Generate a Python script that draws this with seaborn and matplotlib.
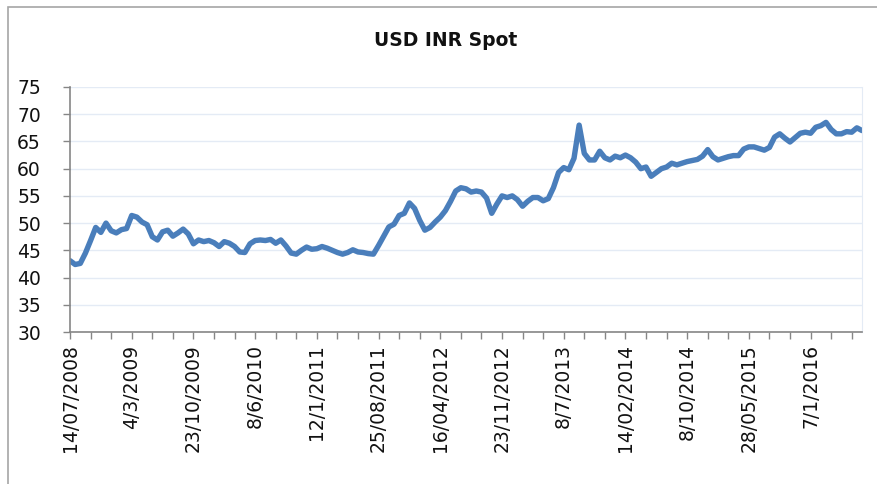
import numpy as np
import pandas as pd
import seaborn as sns
import matplotlib.pyplot as plt
from matplotlib.patches import Rectangle

# USD/INR spot (one value per ~14 trading days)
spot = [43.1, 42.4, 42.6, 44.5, 46.8, 49.2, 48.3, 50.0, 48.6, 48.2,
        48.8, 49.0, 51.4, 51.1, 50.2, 49.7, 47.5, 46.9, 48.4, 48.7,
        47.6, 48.2, 48.9, 48.0, 46.2, 46.9, 46.6, 46.8, 46.4, 45.7,
        46.6, 46.3, 45.7, 44.7, 44.6, 46.2, 46.8, 46.9, 46.8, 47.0,
        46.3, 46.9, 45.8, 44.5, 44.3, 45.0, 45.6, 45.2, 45.3, 45.7,
        45.4, 45.0, 44.6, 44.3, 44.6, 45.1, 44.7, 44.6, 44.4, 44.3,
        45.9, 47.6, 49.3, 49.8, 51.4, 51.8, 53.7, 52.7, 50.5, 48.7,
        49.2, 50.2, 51.1, 52.3, 54.0, 55.9, 56.5, 56.3, 55.7, 55.9,
        55.7, 54.6, 51.8, 53.5, 55.0, 54.7, 55.0, 54.3, 53.1, 54.0,
        54.7, 54.7, 54.1, 54.5, 56.5, 59.3, 60.2, 59.8, 61.9, 68.0,
        62.8, 61.6, 61.6, 63.2, 62.0, 61.6, 62.3, 62.0, 62.5, 62.0,
        61.2, 60.0, 60.3, 58.6, 59.3, 60.0, 60.3, 61.0, 60.7, 61.0,
        61.3, 61.5, 61.7, 62.3, 63.5, 62.2, 61.6, 61.9, 62.2, 62.4,
        62.4, 63.6, 64.0, 64.0, 63.7, 63.4, 63.9, 65.8, 66.4, 65.6,
        64.9, 65.7, 66.5, 66.7, 66.5, 67.6, 67.9, 68.5, 67.2, 66.4,
        66.4, 66.8, 66.7, 67.5, 67.0]

date_labels = ['14/07/2008', '4/3/2009', '23/10/2009', '8/6/2010', '12/1/2011',
               '25/08/2011', '16/04/2012', '23/11/2012', '8/7/2013', '14/02/2014',
               '8/10/2014', '28/05/2015', '7/1/2016']

y_ticks = [30, 35, 40, 45, 50, 55, 60, 65, 70, 75]

df = pd.DataFrame({'idx': np.arange(len(spot)), 'spot': spot})

sns.set_style('white')
plt.rcParams['font.family'] = ['DejaVu Sans']

fig = plt.figure(figsize=(8.78, 4.84), dpi=100)
fig.patches.append(Rectangle((8 / 878, -0.1), 1.2, 1 - 7 / 484 + 0.1,
                             transform=fig.transFigure, fill=False,
                             edgecolor='#A6A6A6', linewidth=1.2))
ax = fig.add_axes([70 / 878, 1 - 332 / 484, 792 / 878, 245 / 484])

sns.lineplot(data=df, x='idx', y='spot', ax=ax, color='#4A7EBB', linewidth=3.9)

ax.set_xlim(0, len(spot) - 1)
ax.set_ylim(30, 75)
ax.set_yticks(y_ticks)
ax.set_yticklabels([str(v) for v in y_ticks], fontsize=13.5, color='#111111')

step = 4
tick_pos = list(range(0, len(spot), step))
tick_lab = [''] * len(tick_pos)
for k, lab in enumerate(date_labels):
    tick_lab[k * 3] = lab
ax.set_xticks(tick_pos)
ax.set_xticklabels(tick_lab, rotation=90, fontsize=13.5, color='#111111')

ax.grid(axis='y', color='#E4EBF5', linewidth=1)
ax.set_axisbelow(True)
ax.tick_params(axis='both', direction='out', length=5, width=1, color='#868686',
               bottom=True, left=True)
ax.tick_params(axis='y', pad=16)
ax.tick_params(axis='x', pad=4)
for s in ['left', 'bottom']:
    ax.spines[s].set_color('#868686')
    ax.spines[s].set_linewidth(1.2)
ax.spines['top'].set_visible(False)
ax.spines['right'].set_color('#E4EBF5')

ax.set_xlabel('')
ax.set_ylabel('')
fig.text(446 / 878, 1 - 41 / 484, 'USD INR Spot', ha='center', va='center',
         fontsize=13.5, fontweight='bold', color='#111111')

fig.savefig('out.png', dpi=100)
